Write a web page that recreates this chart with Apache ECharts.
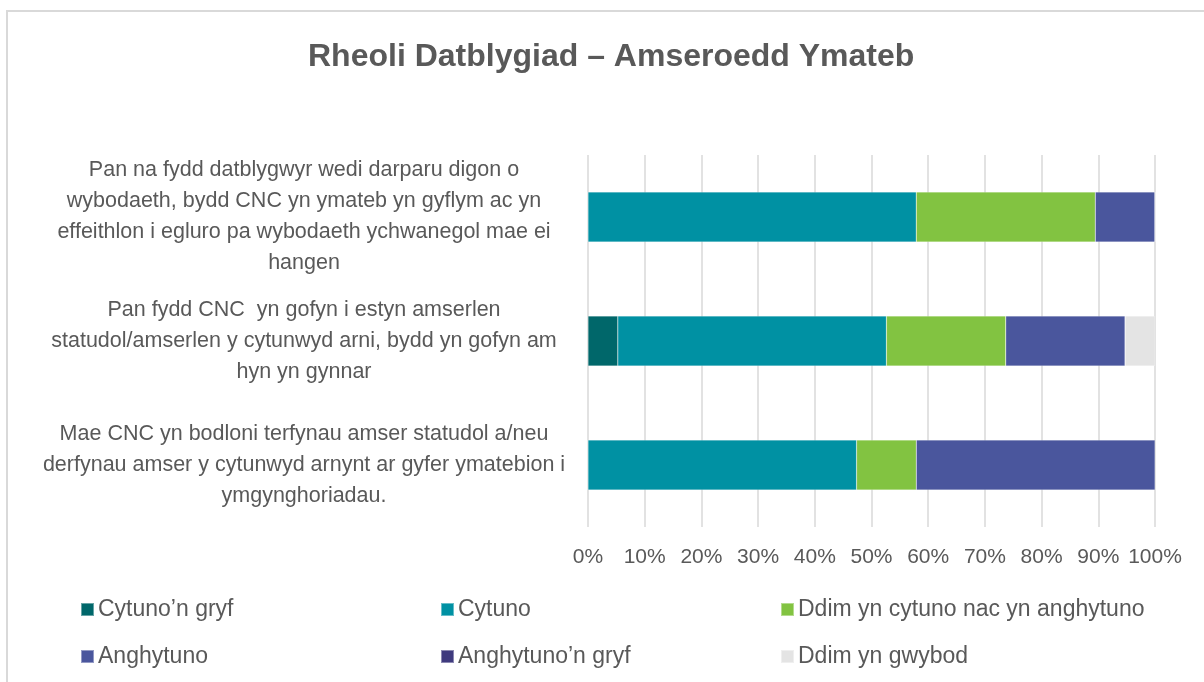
<!DOCTYPE html>
<html>
<head>
<meta charset="utf-8">
<script src="https://cdn.jsdelivr.net/npm/echarts@6/dist/echarts.min.js"></script>
<style>
  html, body { margin: 0; padding: 0; background: #fff; }
  #wrap { position: relative; width: 1204px; height: 682px; overflow: hidden; }
  #frame { position: absolute; left: 6px; top: 10px; width: 1300px; height: 800px;
           border-left: 2px solid #d9d9d9; border-top: 2px solid #d9d9d9; }
  #chart { position: absolute; left: 0; top: 0; width: 1204px; height: 682px; }
</style>
</head>
<body>
<div id="wrap">
  <div id="frame"></div>
  <div id="chart"></div>
</div>
<script>
// categories (top to bottom)
var categories = [
  'Pan na fydd datblygwyr wedi darparu digon o\nwybodaeth, bydd CNC yn ymateb yn gyflym ac yn\neffeithlon i egluro pa wybodaeth ychwanegol mae ei\nhangen',
  'Pan fydd CNC  yn gofyn i estyn amserlen\nstatudol/amserlen y cytunwyd arni, bydd yn gofyn am\nhyn yn gynnar',
  'Mae CNC yn bodloni terfynau amser statudol a/neu\nderfynau amser y cytunwyd arnynt ar gyfer ymatebion i\nymgynghoriadau.'
];

// share of answers, %
var cytunoGryf    = [0, 5.26, 0];
var cytuno        = [57.89, 47.37, 47.37];
var ddimCytuno    = [31.58, 21.05, 10.53];
var anghytuno     = [10.53, 21.05, 42.11];
var anghytunoGryf = [0, 0, 0];
var ddimGwybod    = [0, 5.26, 0];

var seriesNames = ['Cytuno\u2019n gryf', 'Cytuno', 'Ddim yn cytuno nac yn anghytuno',
                   'Anghytuno', 'Anghytuno\u2019n gryf', 'Ddim yn gwybod'];
var seriesData = [cytunoGryf, cytuno, ddimCytuno, anghytuno, anghytunoGryf, ddimGwybod];
var colors = ['#00676a', '#0091a3', '#82c341', '#4a569d', '#3f3a7e', '#e4e4e4'];

var xTicks = [0, 10, 20, 30, 40, 50, 60, 70, 80, 90, 100];

var font = 'Liberation Sans';
var txt = '#595959';

var chart = echarts.init(document.getElementById('chart'));

var legendPos = [[80, 598], [440, 598], [780, 598], [80, 645], [440, 645], [780, 645]];
var legends = seriesNames.map(function (n, i) {
  return {
    data: [n],
    left: legendPos[i][0],
    top: legendPos[i][1],
    padding: 0,
    itemWidth: 13,
    itemHeight: 13,
    itemGap: 4,
    icon: 'rect',
    textStyle: { fontFamily: font, fontSize: 23, color: txt, padding: [0, 0, 0, -1] },
    selectedMode: false
  };
});

var option = {
  animation: false,
  color: colors,
  title: {
    text: 'Rheoli Datblygiad \u2013 Amseroedd Ymateb',
    left: 303,
    top: 36,
    textStyle: { fontFamily: font, fontSize: 32, fontWeight: 'bold', color: txt }
  },
  legend: legends,
  grid: { left: 588, right: 49, top: 155, bottom: 155 },
  xAxis: {
    type: 'value',
    min: 0,
    max: 100,
    interval: 10,
    axisLine: { show: false },
    axisTick: { show: false },
    splitLine: { lineStyle: { color: '#d9d9d9', width: 1.5 } },
    axisLabel: {
      formatter: function (v) { return xTicks.indexOf(v) >= 0 ? v + '%' : ''; },
      fontFamily: font, fontSize: 21, color: txt, margin: 20
    }
  },
  yAxis: {
    type: 'category',
    inverse: true,
    data: categories,
    axisLine: { show: false },
    axisTick: { show: false },
    axisLabel: {
      align: 'center',
      margin: 284,
      fontFamily: font,
      fontSize: 21.5,
      lineHeight: 31,
      color: txt
    }
  },
  series: seriesNames.map(function (n, i) {
    return {
      name: n,
      type: 'bar',
      stack: 'total',
      barWidth: 50,
      data: seriesData[i],
      itemStyle: { borderColor: 'rgba(255,255,255,0.4)', borderWidth: 0.5 }
    };
  })
};

chart.setOption(option);
</script>
</body>
</html>
